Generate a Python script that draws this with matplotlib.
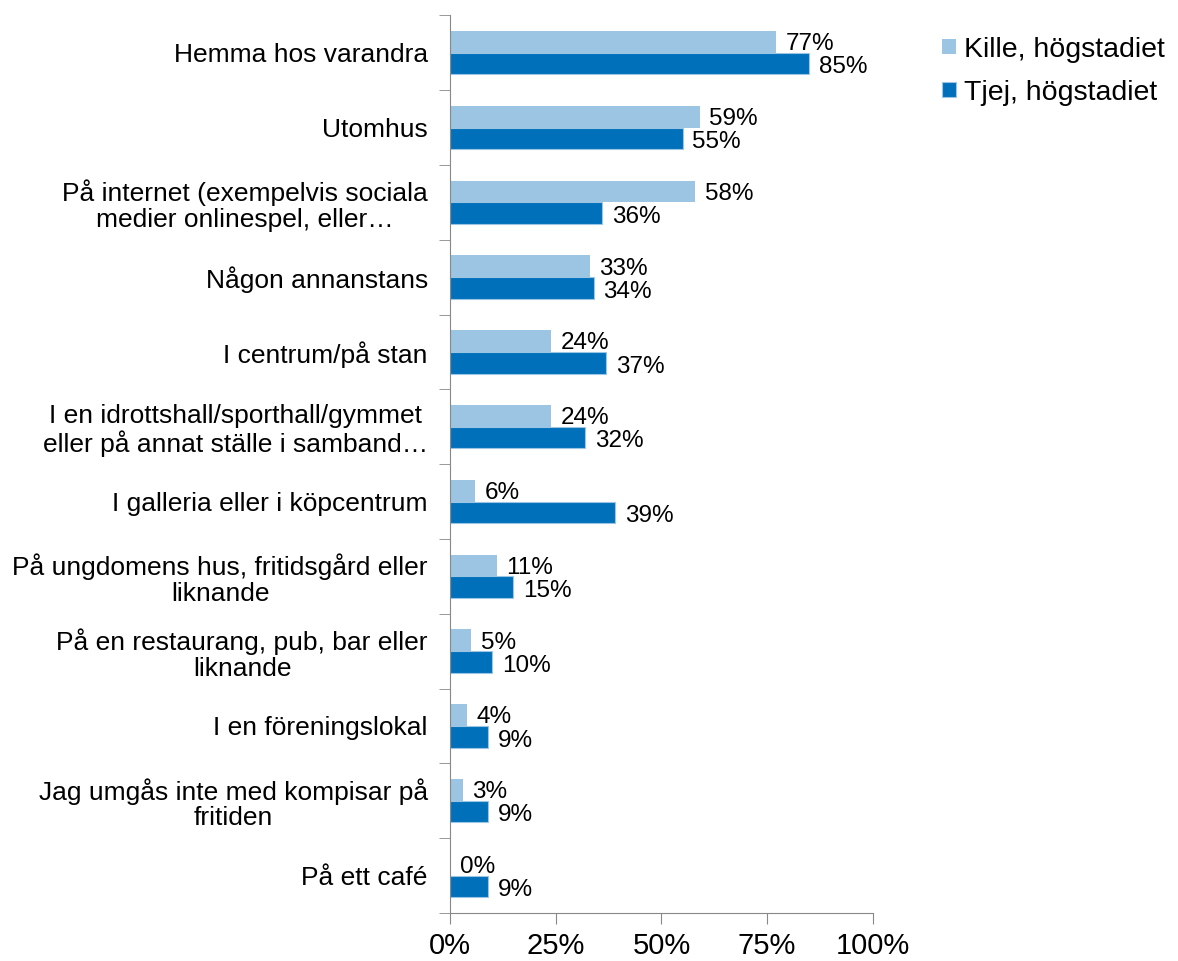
import numpy as np
import matplotlib.pyplot as plt

plt.rcParams['font.family'] = ['Liberation Sans', 'DejaVu Sans']

categories = [
    "Hemma hos varandra",
    "Utomhus",
    "På internet (exempelvis sociala\nmedier onlinespel, eller…",
    "Någon annanstans",
    "I centrum/på stan",
    "I en idrottshall/sporthall/gymmet\neller på annat ställe i samband…",
    "I galleria eller i köpcentrum",
    "På ungdomens hus, fritidsgård eller\nliknande",
    "På en restaurang, pub, bar eller\nliknande",
    "I en föreningslokal",
    "Jag umgås inte med kompisar på\nfritiden",
    "På ett café",
]
kille = [77, 59, 58, 33, 24, 24, 6, 11, 5, 4, 3, 0]
tjej = [85, 55, 36, 34, 37, 32, 39, 15, 10, 9, 9, 9]
series_names = ["Kille, högstadiet", "Tjej, högstadiet"]
xticks = [0, 25, 50, 75, 100]

light = "#9BC5E3"
dark = "#0070BA"

fig = plt.figure(figsize=(11.78, 9.61), dpi=100)
ax = fig.add_axes([0.382, 0.05, 0.359, 0.934])

y = np.arange(len(categories))
h = 0.29
b1 = ax.barh(y - h / 2, kille, height=h, color=light, label=series_names[0])
b2 = ax.barh(y + h / 2, tjej, height=h, color=dark, edgecolor=light, linewidth=0.8,
             label=series_names[1])

for yi, v in zip(y, kille):
    ax.text(v + 2.3, yi - h / 2 + 0.03, f"{v}%", va="center", ha="left", fontsize=17.5)
for yi, v in zip(y, tjej):
    ax.text(v + 2.3, yi + h / 2 + 0.05, f"{v}%", va="center", ha="left", fontsize=17.5)

ax.set_xlim(0, 100)
ax.set_ylim(len(categories) - 0.5, -0.5)
ax.set_xticks(xticks)
ax.set_xticklabels([f"{t}%" for t in xticks], fontsize=21)
ax.set_yticks(y)
ax.set_yticklabels(categories, fontsize=19, linespacing=1.1)
ax.set_yticks(np.arange(len(categories) + 1) - 0.5, minor=True)
ax.tick_params(axis="y", which="major", length=0, pad=16)
ax.tick_params(axis="y", which="minor", length=8, color="#888888", direction="out")
ax.tick_params(axis="x", length=8, color="#888888", direction="out", pad=6)
for lab in ax.get_yticklabels():
    lab.set_horizontalalignment("right")
    lab.set_multialignment("center")

for s in ["top", "right"]:
    ax.spines[s].set_visible(False)
ax.spines["left"].set_color("#888888")
ax.spines["bottom"].set_color("#888888")

fig.legend(handles=[b1, b2], loc="upper left", bbox_to_anchor=(0.8, 0.962),
           frameon=False, fontsize=20.5, handlelength=0.47, handleheight=0.47,
           handletextpad=0.3, labelspacing=0.6, borderpad=0, borderaxespad=0)

fig.savefig("out.png", dpi=100)
